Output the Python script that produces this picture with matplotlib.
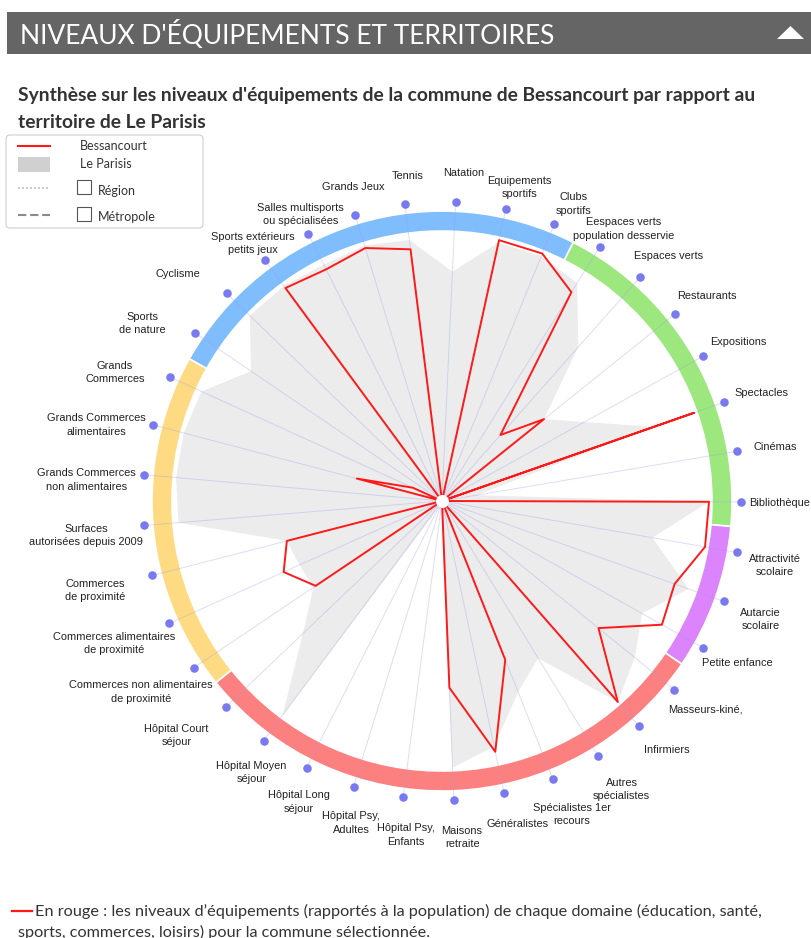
import numpy as np
import matplotlib.pyplot as plt
from matplotlib.patches import FancyBboxPatch, Rectangle, Polygon

# Categories, clockwise from the top of the radar
categories = [
    "Natation", "Equipements\nsportifs", "Clubs\nsportifs",
    "Eespaces verts\npopulation desservie", "Espaces verts", "Restaurants",
    "Expositions", "Spectacles", "Cinémas", "Bibliothèque",
    "Attractivité\nscolaire", "Autarcie\nscolaire", "Petite enfance",
    "Masseurs-kiné,", "Infirmiers", "Autres\nspécialistes",
    "Spécialistes 1er\nrecours", "Généralistes", "Maisons\nretraite",
    "Hôpital Psy,\nEnfants", "Hôpital Psy,\nAdultes", "Hôpital Long\nséjour",
    "Hôpital Moyen\nséjour", "Hôpital Court\nséjour",
    "Commerces non alimentaires\nde proximité",
    "Commerces alimentaires\nde proximité", "Commerces\nde proximité",
    "Surfaces\nautorisées depuis 2009", "Grands Commerces\nnon alimentaires",
    "Grands Commerces\nalimentaires", "Grands\nCommerces", "Sports\nde nature",
    "Cyclisme", "Sports extérieurs\npetits jeux",
    "Salles multisports\nou spécialisées", "Grands Jeux", "Tennis",
]

# Equipment levels (0-100)
bessancourt = [
    0, 100, 100, 92, 33, 49, 0, 100, 0, 100,
    100, 92.5, 94.5, 75.5, 100, 0, 64, 96, 70,
    0, 0, 0, 0, 0, 57, 65, 60, 0, 0, 33, 12,
    0, 0, 99, 97, 99, 95,
]
le_parisis = [
    86, 99, 99, 96, 77, 49, 61, 84, 13, 100,
    80, 98, 86, 93, 100, 69, 77, 94, 100,
    3, 3, 3, 100, 72, 58, 58.5, 60, 99, 100, 100, 99,
    86.5, 100, 100, 99, 100, 98.5,
]

# Domains around the ring: first category index and number of categories
domain_start = [31, 3, 10, 13, 24]
domain_count = [9, 7, 3, 11, 7]
domain_colors = ["#80bdfc", "#9de77f", "#dc84fb", "#fd8080", "#fedb82"]

W, H = 812, 938
CX, CY = 442, 501          # centre of the radar in pixels
PX_PER_UNIT = 2.67         # pixels per value unit
R_AX = 302                 # radius of the polar axes in pixels
RING_IN, RING_OUT = 270 / PX_PER_UNIT, 290 / PX_PER_UNIT
R_DOT = 299 / PX_PER_UNIT
LINE_H = 13.5              # line height of the category labels

n = len(categories)
step = 360.0 / n
theta_deg = 2.6 + step * np.arange(n)
theta = np.deg2rad(theta_deg)

fig = plt.figure(figsize=(W / 100, H / 100), dpi=100)

# full-figure overlay in pixel coordinates for header, legend and texts
ov = fig.add_axes([0, 0, 1, 1])
ov.set_xlim(0, W)
ov.set_ylim(H, 0)
ov.axis("off")

ov.add_patch(Rectangle((7, 12), W - 7, 42, color="#656565", lw=0))
ov.text(20, 34, "NIVEAUX D'ÉQUIPEMENTS ET TERRITOIRES", color="white",
        fontsize=19, family="Lato", va="center", ha="left")
ov.add_patch(Polygon([(777, 39), (804, 39), (790.5, 26)], color="white", lw=0))

title_font = dict(fontsize=13.9, family="Lato", weight="bold",
                  color="#333333", va="center")
ov.text(18, 96, "Synthèse sur les niveaux d'équipements de la commune de "
        "Bessancourt par rapport au", **title_font)
ov.text(18, 122, "territoire de Le Parisis", **title_font)

# legend box
ov.add_patch(FancyBboxPatch((6, 135), 197, 93,
                            boxstyle="round,pad=0,rounding_size=4",
                            fc="white", ec="#cfcfcf", lw=0.8))
leg_font = dict(fontsize=9, family="Lato", color="#333333", va="center")
ov.plot([18, 50], [146, 146], color="#ff1a1a", lw=1.5)
ov.text(80, 146, "Bessancourt", **leg_font)
ov.add_patch(Rectangle((18, 157), 32, 15, color="#d0d0d0", lw=0))
ov.text(80, 164, "Le Parisis", **leg_font)
ov.plot([18, 50], [188, 188], color="#bdbdbd", lw=1.2, ls=(0, (1.2, 1.2)))
ov.add_patch(Rectangle((77, 180), 14, 14, fc="white", ec="#555555", lw=0.8))
ov.text(98, 191, "Région", **leg_font)
ov.plot([18, 50], [215, 215], color="#8a8a8a", lw=1.5, ls=(0, (4, 1.8)))
ov.add_patch(Rectangle((77, 207), 14, 14, fc="white", ec="#555555", lw=0.8))
ov.text(98, 217, "Métropole", **leg_font)

# note under the chart
note_font = dict(fontsize=11.7, family="Lato", color="#333333", va="center")
ov.plot([12, 32], [911, 911], color="#ff1a1a", lw=1.6)
ov.text(35, 911, "En rouge : les niveaux d’équipements (rapportés à la population) "
        "de chaque domaine (éducation, santé,", **note_font)
ov.text(18, 932, "sports, commerces, loisirs) pour la commune sélectionnée.",
        **note_font)

# category labels around the ring, one text per line
for name, th in zip(categories, theta_deg):
    rad = np.deg2rad(th)
    x = 449 + 331 * np.sin(rad)
    if 220 < th < 320:
        x -= 33
    y = 497 - 329 * np.cos(rad)
    for k, line in enumerate(name.split("\n")):
        ov.text(x, y + k * LINE_H, line, ha="center", va="top",
                fontsize=7.9, family="Liberation Sans", color="#222222")

# radar chart
ax = fig.add_axes([(CX - R_AX) / W, (H - CY - R_AX) / H, 2 * R_AX / W, 2 * R_AX / H],
                  polar=True)
ax.set_theta_zero_location("N")
ax.set_theta_direction(-1)
ax.set_ylim(0, R_AX / PX_PER_UNIT)
ax.set_xticks([])
ax.set_yticks([])
ax.grid(False)
ax.spines["polar"].set_visible(False)
ax.patch.set_alpha(0)

closed_theta = np.append(theta, theta[0])
ax.fill(closed_theta, np.append(le_parisis, le_parisis[0]),
        color="#ececec", lw=0, zorder=1)

# coloured domain ring
for start, count, color in zip(domain_start, domain_count, domain_colors):
    first = theta_deg[start] - step / 2
    width = count * step
    ax.bar(np.deg2rad(first + width / 2), RING_OUT - RING_IN,
           width=np.deg2rad(width), bottom=RING_IN, color=color,
           edgecolor="white", lw=1.2, zorder=2)

for t in theta:
    ax.plot([t, t], [0, R_DOT], color="#9d9de8", lw=0.7, alpha=0.35, zorder=3)

ax.plot(closed_theta, np.append(bessancourt, bessancourt[0]),
        color="#ff1a1a", lw=1.4, zorder=4)
ax.scatter([0], [0], s=70, color="white", zorder=5)
ax.scatter(theta, np.full(n, R_DOT), s=38, color="#7a7af0", lw=0,
           zorder=5, clip_on=False)

fig.savefig("out.png", dpi=100)
